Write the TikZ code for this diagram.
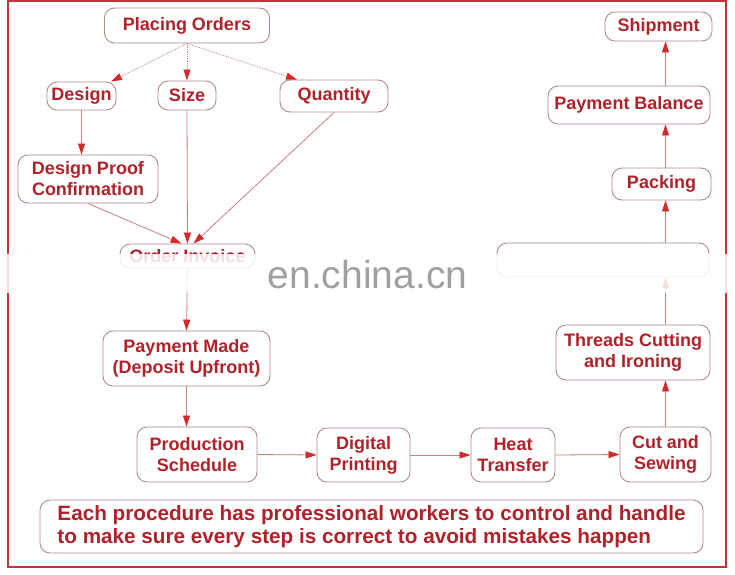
\documentclass[tikz,border=0pt]{standalone}
\usepackage{fontspec}
\setmainfont{Liberation Sans}
\usetikzlibrary{arrows.meta,calc}
\definecolor{txtc}{HTML}{B0222A}
\definecolor{bordc}{HTML}{B08A86}
\definecolor{linec}{HTML}{C98080}
\definecolor{arrc}{HTML}{D42A2A}
\definecolor{framec}{HTML}{C4343A}
\definecolor{wmc}{HTML}{A0A0A0}
\begin{document}
\begin{tikzpicture}[x=1pt,y=-1pt,
  box/.style={draw=bordc, line width=0.9pt, rounded corners=10pt, fill=white,
    text=txtc, font=\bfseries\fontsize{18}{21}\selectfont, align=center, inner sep=0pt},
  conn/.style={draw=linec, line width=0.8pt, -{Triangle[length=11pt,width=7pt,color=arrc]}},
  dconn/.style={conn, densely dotted},
]
\useasboundingbox (0,0) rectangle (735,574);
\fill[white] (0,0) rectangle (735,574);
\draw[framec, line width=1.6pt] (8,1) rectangle (726,567);

\node[box, minimum width=165pt, minimum height=35pt] (po) at (187,25.5) {Placing Orders};
\node[box, minimum width=69pt, minimum height=28pt] (de) at (81.5,96) {Design};
\node[box, minimum width=58pt, minimum height=29pt] (si) at (187,95.5) {Size};
\node[box, minimum width=108pt, minimum height=32pt] (qu) at (334,96) {Quantity};
\node[box, minimum width=140pt, minimum height=48pt] (dpc) at (88,179) {Design Proof\\Confirmation};
\node[box, minimum width=135pt, minimum height=24pt] (oi) at (187.5,256) {Order Invoice};
\node[box, minimum width=167pt, minimum height=55pt] (pm) at (186.5,358.5) {Payment Made\\(Deposit Upfront)};
\node[box, minimum width=120pt, minimum height=55pt] (ps) at (197,454.5) {Production\\Schedule};
\node[box, minimum width=93pt, minimum height=54pt] (dp) at (363.5,455) {Digital\\Printing};
\node[box, minimum width=84pt, minimum height=54pt] (ht) at (513,455) {Heat\\Transfer};
\node[box, minimum width=91pt, minimum height=55pt] (cs) at (665.5,454.5) {Cut and\\Sewing};
\node[box, minimum width=154pt, minimum height=55pt] (tc) at (633,352.5) {Threads Cutting\\and Ironing};
\node[box, minimum width=212pt, minimum height=34pt] (hb) at (603,260) {};
\node[box, minimum width=99pt, minimum height=32pt] (pk) at (661.5,184) {Packing};
\node[box, minimum width=162pt, minimum height=38pt] (pb) at (629,105) {Payment Balance};
\node[box, minimum width=107pt, minimum height=29pt] (sh) at (658.5,26.5) {Shipment};
\node[box, minimum width=663pt, minimum height=53pt, align=left, font=\bfseries\fontsize{20.7}{22.5}\selectfont] (note) at (371.5,526.5)
  {Each procedure has professional workers to control and handle\\to make sure every step is correct to avoid mistakes happen};

\draw[dconn] (po.south) -- ($(de.north)+(29.5,0)$);
\draw[dconn] (po.south) -- (si.north);
\draw[dconn] (po.south) -- ($(qu.north)+(-37,0)$);
\draw[conn] (de.south) -- (dpc.north -| de.south);
\draw[conn] (dpc.south) -- ($(oi.north)+(-6,0)$);
\draw[conn] (si.south) -- (oi.north);
\draw[conn] (qu.south) -- ($(oi.north)+(6,0)$);
\draw[conn] (oi.south) -- (pm.north);
\draw[conn] (pm.south) -- (ps.north -| pm.south);
\draw[conn] (ps.east) -- (dp.west);
\draw[conn] (dp.east) -- (ht.west);
\draw[conn] (ht.east) -- (cs.west);
\draw[conn] (cs.north) -- (cs.north |- tc.south);
\draw[conn] (cs.north |- tc.north) -- (cs.north |- hb.south);
\draw[conn] (cs.north |- hb.north) -- (cs.north |- pk.south);
\draw[conn] (cs.north |- pk.north) -- (cs.north |- pb.south);
\draw[conn] (cs.north |- pb.north) -- (cs.north |- sh.south);

% obscuring band and watermark
\fill[white, opacity=0.85] (0,254) rectangle (735,293);
\node[text=wmc, font=\fontsize{39}{39}\selectfont, anchor=base, inner sep=0pt] (wm) at (367.5,288) {en.china.cn};
\end{tikzpicture}
\end{document}
